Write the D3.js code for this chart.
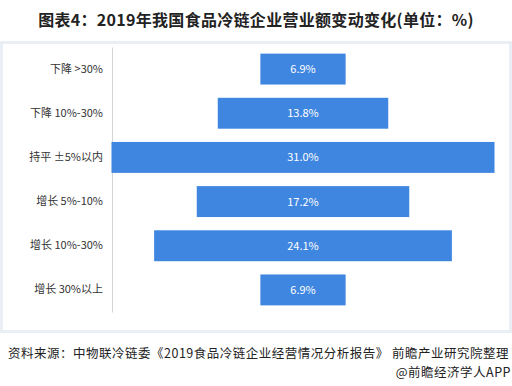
<!DOCTYPE html>
<html>
<head>
<meta charset="utf-8">
<script src="https://cdn.jsdelivr.net/npm/d3@7"></script>
<style>
  body { margin: 0; background: #fff; }
  svg { display: block; font-family: "Microsoft YaHei", "Noto Sans CJK SC", sans-serif; }
</style>
</head>
<body>
<div id="chart"></div>
<script>
// categories, top to bottom
var categories = ["下降 >30%", "下降 10%-30%", "持平 ±5%以内", "增长 5%-10%", "增长 10%-30%", "增长 30%以上"];
var values = [6.9, 13.8, 31.0, 17.2, 24.1, 6.9];
var valueLabels = ["6.9%", "13.8%", "31.0%", "17.2%", "24.1%", "6.9%"];

var W = 512, H = 386;
var svg = d3.select("#chart").append("svg")
    .attr("width", W)
    .attr("height", H);

// outer frame
svg.append("rect")
    .attr("x", 1.5).attr("y", 42.5)
    .attr("width", 509).attr("height", 289)
    .attr("fill", "none")
    .attr("stroke", "#eaeff6")
    .attr("stroke-width", 3);

// title
svg.append("text")
    .attr("x", 256)
    .attr("y", 26)
    .attr("text-anchor", "middle")
    .style("font-size", "16px")
    .style("font-weight", "bold")
    .style("letter-spacing", "0.3px")
    .style("fill", "#222")
    .text("图表4：2019年我国食品冷链企业营业额变动变化(单位：%)");

// plot area
var plotLeft = 112, plotCenter = 303, plotTop = 47, plotBottom = 312;

// x: half-width of bar from center
var x = d3.scaleLinear()
    .domain([0, 31])
    .range([0, 191.5]);

var y = d3.scaleBand()
    .domain(categories)
    .range([plotTop, plotBottom])
    .paddingInner(0.3)
    .paddingOuter(0.15);

var data = categories.map(function(c, i) {
  return {cat: c, v: values[i], label: valueLabels[i]};
});

// axis line + category labels
var yAxis = svg.append("g")
    .attr("transform", "translate(" + plotLeft + ",0)")
    .call(d3.axisLeft(y).tickSize(0).tickPadding(9));
yAxis.select(".domain")
    .attr("stroke", "#d4d4d4")
    .attr("stroke-width", 1);
yAxis.selectAll("text")
    .style("font-size", "11px")
    .style("fill", "#333")
    .style("font-family", "\"Microsoft YaHei\", \"Noto Sans CJK SC\", sans-serif");

// bars
svg.selectAll(".bar")
    .data(data)
  .enter().append("rect")
    .attr("class", "bar")
    .attr("x", function(d) { return plotCenter - x(d.v); })
    .attr("y", function(d) { return y(d.cat); })
    .attr("width", function(d) { return 2 * x(d.v); })
    .attr("height", y.bandwidth())
    .style("fill", "#3f86e0");

// value labels
svg.selectAll(".val")
    .data(data)
  .enter().append("text")
    .attr("class", "val")
    .attr("x", plotCenter)
    .attr("y", function(d) { return y(d.cat) + y.bandwidth() / 2; })
    .attr("dy", "0.36em")
    .attr("text-anchor", "middle")
    .style("font-size", "11px")
    .style("fill", "#fff")
    .text(function(d) { return d.label; });

// source
svg.append("text")
    .attr("x", 8)
    .attr("y", 358)
    .style("font-size", "12.5px")
    .style("letter-spacing", "0.5px")
    .style("fill", "#222")
    .text("资料来源：中物联冷链委《2019食品冷链企业经营情况分析报告》 前瞻产业研究院整理");

svg.append("text")
    .attr("x", 511)
    .attr("y", 377)
    .attr("text-anchor", "end")
    .style("font-size", "12.5px")
    .style("letter-spacing", "0.5px")
    .style("fill", "#222")
    .text("@前瞻经济学人APP");
</script>
</body>
</html>
